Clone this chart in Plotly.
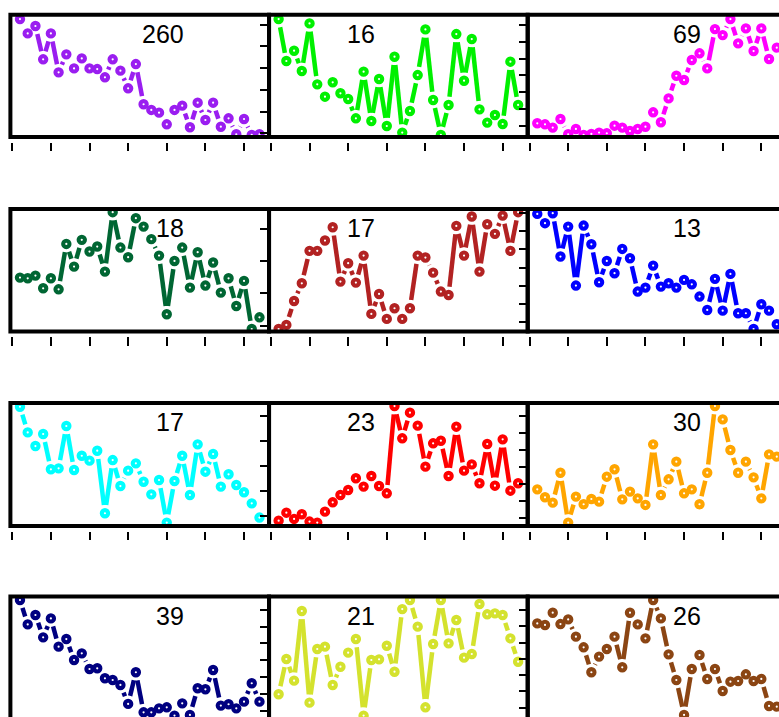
import math
import plotly.graph_objects as go

W, H = 779, 717

# ---------------- data (arbitrary per-panel units) -------------
x_idx = list(range(1, 33))
titles = ["260", "16", "69", "18", "17", "13", "17", "23", "30", "39", "21", "26"]
colors = ["#9A1EF0", "#00F000", "#FF00FF", "#006633", "#B22222", "#0000FF",
          "#00FFFF", "#FF0000", "#FFA500", "#000080", "#D4E22E", "#8B4513"]

s01 = [100.1, 87.5, 94.0, 64.6, 87.5, 53.1, 69.0, 56.6, 65.4, 56.6, 56.0, 48.7, 64.6, 54.6, 39.0, 60.4,
       24.9, 19.9, 17.5, 7.2, 19.9, 23.7, 4.6, 26.3, 11.0, 26.3, 5.1, 12.5, -1.6, 11.9, -2.2, -1.6]
s02 = [100.1, 63.1, 72.2, 54.3, 96.3, 42.5, 31.6, 44.3, 34.6, 29.6, 12.5, 53.7, 10.1, 47.2, 5.7, 66.9,
       -0.1, 19.0, 50.7, 91.0, 28.7, -2.2, 24.3, 86.9, 45.7, 82.5, 20.4, 8.7, 15.4, 7.5, 62.5, 24.3]
s03 = [8.1, 7.2, 4.3, 11.9, -1.6, 3.1, -2.2, -1.3, -0.1, -0.7, 6.0, 4.3, 1.3, 3.1, 5.1, 17.8,
       9.0, 30.1, 50.1, 46.3, 64.0, 69.9, 56.6, 91.3, 86.0, 100.1, 78.7, 91.9, 71.9, 91.9, 64.9, 74.9]
s04 = [43.5, 42.9, 45.3, 34.1, 42.9, 33.2, 73.2, 53.2, 76.8, 66.5, 70.9, 48.8, 101.2, 70.0, 61.5, 95.9,
       88.5, 77.4, 62.9, 11.2, 58.2, 70.0, 34.7, 65.9, 36.5, 56.8, 30.3, 42.9, 18.5, 40.6, -1.8, 8.5]
s05 = [-1.8, 1.8, 22.9, 38.5, 67.1, 67.1, 76.2, 87.9, 40.0, 56.2, 39.1, 62.9, 11.5, 29.1, 7.1, 16.5,
       7.1, 16.5, 62.9, 61.2, 47.9, 31.2, 28.2, 89.1, 62.9, 97.4, 48.8, 90.6, 82.1, 98.2, 67.1, 101.2]
s06 = [99.7, 91.5, 100.3, 62.1, 88.5, 36.5, 89.4, 72.9, 39.4, 58.2, 47.4, 68.8, 60.6, 31.2, 34.7, 54.1,
       35.6, 38.5, 34.7, 41.5, 37.6, 26.8, 15.0, 42.4, 14.4, 46.8, 12.1, 12.1, -1.8, 20.0, 14.4, 2.4]
s07 = [100.7, 78.2, 66.2, 76.8, 45.8, 46.6, 83.8, 45.2, 57.7, 53.4, 62.1, 7.2, 53.9, 31.1, 44.6, 51.0,
       34.9, 23.8, 36.4, -1.0, 35.5, 57.7, 23.2, 67.7, 43.7, 59.2, 30.6, 41.4, 32.0, 25.6, 15.9, 3.4]
s08 = [0.7, 7.7, 2.2, 6.3, -0.1, -1.0, 8.6, 16.8, 23.2, 27.6, 37.9, 30.6, 39.9, 31.1, 24.7, 101.3,
       73.0, 95.5, 84.1, 48.1, 68.6, 70.9, 39.9, 83.2, 44.6, 50.1, 33.5, 68.0, 31.4, 72.1, 27.0, 33.5]
s09 = [28.2, 21.2, 16.5, 42.8, -1.0, 21.8, 15.1, 19.7, 17.4, 39.3, 45.8, 19.4, 26.2, 20.3, 14.5, 67.7,
       23.2, 37.0, 52.5, 24.7, 28.2, 15.1, 42.8, 101.3, 89.6, 62.7, 42.8, 52.5, 38.7, 20.3, 58.9, 56.9]
s10 = [100.9, 79.4, 87.7, 68.0, 84.7, 59.8, 66.5, 48.0, 53.9, 40.1, 40.7, 31.9, 30.4, 26.0, 9.3, 37.2,
       1.9, 1.9, 5.4, 6.3, -1.0, 9.8, -0.4, 23.1, 22.2, 39.2, 7.8, 9.0, 5.4, 11.3, 27.5, 11.3]
s11 = [17.8, 48.9, 29.8, 91.2, 10.4, 57.7, 59.8, 26.0, 42.1, 54.5, 66.5, -1.0, 48.0, 48.6, 60.6, 37.7,
       92.9, 100.9, 77.4, 6.3, 62.1, 100.9, 62.7, 83.3, 50.1, 53.3, 97.4, 88.3, 89.1, 87.7, 67.1, 46.5]
s12 = [80.3, 78.9, 89.7, 79.7, 83.8, 68.6, 59.2, 37.2, 51.0, 57.7, 68.6, 41.6, 89.7, 79.4, 67.1, 100.9,
       84.7, 53.0, 30.4, -0.4, 40.1, 52.4, 31.3, 40.1, 20.7, 28.9, 29.5, 35.4, 29.5, 31.3, 7.5, 6.9]
series = [s01, s02, s03, s04, s05, s06, s07, s08, s09, s10, s11, s12]

# y tick placement per panel (tick0, dtick) in the panel's units; None = ticks off-screen
y_ticks = [(-0.7, 19.2), (6.0, 14.8), None,
           (1.2, 28.4), (4.7, 15.9), None,
           (4.8, 21.9), (3.4, 14.85), None,
           (3.4, 14.8), (6.0, 14.35), None]

# ---------------- layout geometry (pixels) ----------------
col_left = [10.4, 269.05, 527.7]
panel_w = 258.65
row_top = [14.7, 209.0, 403.0, 596.5]
row_h = [122.3, 122.5, 123.0, 122.5]
x_lo, x_hi = -0.24, 33.24
y_lo, y_hi = -4.0, 104.0
GAP = 8.3          # px gap between line ends and point centres (type "b" look)
label_x = [22.45, 13.75, 22.45]

fig = go.Figure()
layout = dict(width=W, height=H, margin=dict(l=0, r=0, t=0, b=0, pad=0),
              paper_bgcolor="white", plot_bgcolor="white", showlegend=False,
              shapes=[], annotations=[])

sx = panel_w / (x_hi - x_lo)


def gapped(xs, ys, sy):
    gx, gy = [], []
    for i in range(len(xs) - 1):
        dx = (xs[i + 1] - xs[i]) * sx
        dy = (ys[i + 1] - ys[i]) * sy
        d = math.hypot(dx, dy)
        if d > 2 * GAP:
            t = GAP / d
            gx += [xs[i] + t * (xs[i + 1] - xs[i]), xs[i + 1] - t * (xs[i + 1] - xs[i]), None]
            gy += [ys[i] + t * (ys[i + 1] - ys[i]), ys[i + 1] - t * (ys[i + 1] - ys[i]), None]
    return gx, gy


for k in range(12):
    r, c = divmod(k, 3)
    n = k + 1
    xa = "x" if n == 1 else f"x{n}"
    ya = "y" if n == 1 else f"y{n}"
    sy = row_h[r] / (y_hi - y_lo)

    L = col_left[c]
    R = L + panel_w
    T = row_top[r]
    B = T + row_h[r]

    # visible domain (clip at the window edges)
    Rv = min(R, W)
    Bv = min(B, H)
    xr = [x_lo, x_lo + (Rv - L) / sx]
    yr = [y_lo + (B - Bv) / sy, y_hi]

    ys = series[k]
    gx, gy = gapped(x_idx, ys, sy)
    fig.add_trace(go.Scatter(x=gx, y=gy, mode="lines", xaxis=xa, yaxis=ya,
                             line=dict(color=colors[k], width=4.5), hoverinfo="skip"))
    fig.add_trace(go.Scatter(x=x_idx, y=ys, mode="markers", xaxis=xa, yaxis=ya,
                             marker=dict(symbol="circle-open", size=6.3, color=colors[k],
                                         line=dict(width=4.1, color=colors[k]))))

    show_xt = B + 4.5 + 8.5 <= H
    xpos = max(0.0, 1 - (B + 4.5) / H)
    layout["xaxis" if n == 1 else f"xaxis{n}"] = dict(
        domain=[L / W, Rv / W], range=xr, anchor="free", position=xpos,
        showgrid=False, zeroline=False, showline=False, showticklabels=False,
        ticks="outside" if show_xt else "", ticklen=8.5, tickwidth=2, tickcolor="black",
        tickmode="linear", tick0=0, dtick=5, fixedrange=True)
    yt = y_ticks[k]
    ydict = dict(domain=[1 - Bv / H, 1 - T / H], range=yr, anchor=xa, side="right",
                 showgrid=False, zeroline=False, showline=False, showticklabels=False,
                 fixedrange=True)
    if yt is not None:
        ydict.update(ticks="inside", ticklen=9, tickwidth=2, tickcolor="black",
                     tickmode="linear", tick0=yt[0], dtick=yt[1])
    else:
        ydict.update(ticks="")
    layout["yaxis" if n == 1 else f"yaxis{n}"] = ydict

    layout["shapes"].append(dict(type="rect", xref="paper", yref="paper",
                                 x0=L / W, x1=R / W, y0=1 - B / H, y1=1 - T / H,
                                 line=dict(color="black", width=4), layer="above"))
    layout["annotations"].append(dict(text=titles[k], xref=xa, x=label_x[c], xanchor="right",
                                      yref="paper", y=1 - (T + 19.0) / H, yanchor="middle",
                                      showarrow=False,
                                      font=dict(family="Liberation Sans, Arial, sans-serif",
                                                size=25, color="black")))

fig.update_layout(**layout)
fig.write_html("out.html")
